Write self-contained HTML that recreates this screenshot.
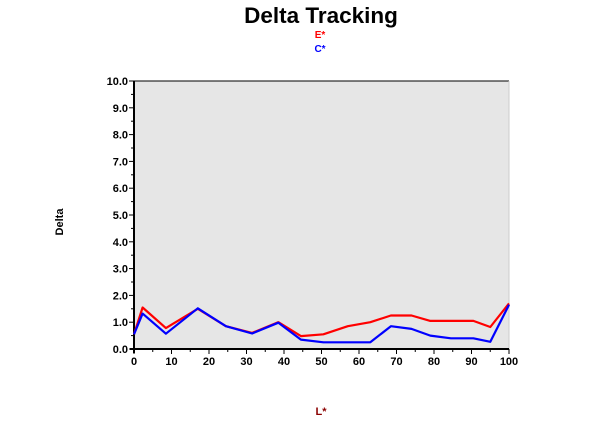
<!DOCTYPE html>
<html><head><meta charset="utf-8"><style>
body{margin:0;background:#fff;}
svg{display:block;font-family:"Liberation Sans",Arial,sans-serif;}
</style></head><body>
<svg id="chart" width="600" height="421" viewBox="0 0 600 421">
<text x="321" y="23" text-anchor="middle" font-size="22.5" font-weight="bold">Delta Tracking</text>
<text x="320" y="38" text-anchor="middle" font-size="10" font-weight="bold" fill="#ff0000">E*</text>
<text x="320" y="52" text-anchor="middle" font-size="10" font-weight="bold" fill="#0000ff">C*</text>
<rect x="134" y="81" width="375" height="268" fill="#e6e6e6"/>
<line x1="134" y1="81" x2="509" y2="81" stroke="#000" stroke-width="1"/>
<line x1="509" y1="81" x2="509" y2="349" stroke="#ccc" stroke-width="1"/>
<g id="axes"></g>
<g id="series"></g>
<text x="63" y="222" text-anchor="middle" font-size="11" font-weight="bold" transform="rotate(-90 63 222)">Delta</text>
<text x="321" y="415" text-anchor="middle" font-size="11" font-weight="bold" fill="#8b0000">L*</text>
</svg>
<script>
const xValues = [0, 2.3, 8.5, 17, 24.5, 31.5, 38.5, 44.5, 50.5, 57, 63, 68.5, 74, 79, 84.5, 90.5, 95, 100];
const eValues = [0.55, 1.55, 0.78, 1.5, 0.85, 0.6, 1.0, 0.48, 0.55, 0.85, 1.0, 1.25, 1.25, 1.05, 1.05, 1.05, 0.82, 1.7];
const cValues = [0.55, 1.32, 0.57, 1.52, 0.85, 0.58, 0.98, 0.35, 0.25, 0.25, 0.25, 0.85, 0.75, 0.5, 0.4, 0.4, 0.27, 1.65];
const yTicks = [0,1,2,3,4,5,6,7,8,9,10];
const xTicks = [0,10,20,30,40,50,60,70,80,90,100];

const L=134,R=509,T=81,B=349;
const sx=v=>L+(v/100)*(R-L);
const sy=v=>B-(v/10)*(B-T);
const NS="http://www.w3.org/2000/svg";
const axes=document.getElementById('axes');
function mk(tag,attrs,parent){const e=document.createElementNS(NS,tag);for(const k in attrs)e.setAttribute(k,attrs[k]);parent.appendChild(e);return e;}

const ya=mk('line',{x1:L,y1:T,x2:L,y2:B+4,stroke:'#000','stroke-width':2},axes);


const xa=mk('line',{x1:L-4,y1:B,x2:R,y2:B,stroke:'#000','stroke-width':2},axes);



yTicks.forEach((v,i)=>{
  const y=sy(v);
  mk('line',{x1:L-5,y1:y,x2:L,y2:y,stroke:'#000'},axes);
  if(i<yTicks.length-1){const ym=sy(v+0.5);mk('line',{x1:L-3,y1:ym,x2:L,y2:ym,stroke:'#000'},axes);}
  const t=mk('text',{x:L-6,y:y+4,'text-anchor':'end','font-size':11,'font-weight':'bold'},axes);
  t.textContent=v.toFixed(1);
  
  
});
xTicks.forEach((v,i)=>{
  const x=sx(v);
  mk('line',{x1:x,y1:B,x2:x,y2:B+5,stroke:'#000'},axes);
  if(i<xTicks.length-1){const xm=sx(v+5);mk('line',{x1:xm,y1:B,x2:xm,y2:B+3,stroke:'#000'},axes);}
  const t=mk('text',{x:x,y:B+16,'text-anchor':'middle','font-size':11,'font-weight':'bold'},axes);
  t.textContent=String(v);
  
  
});

const series=document.getElementById('series');
function line(vals,color,name){
  const pts=vals.map((v,i)=>sx(xValues[i]).toFixed(1)+','+sy(v).toFixed(1)).join(' ');
  const p=mk('polyline',{points:pts,fill:'none',stroke:color,'stroke-width':2.2,'stroke-linejoin':'round'},series);
  
  
}
line(eValues,'#ff0000','series-e-line');
line(cValues,'#0000ff','series-c-line');
</script>
</body></html>
